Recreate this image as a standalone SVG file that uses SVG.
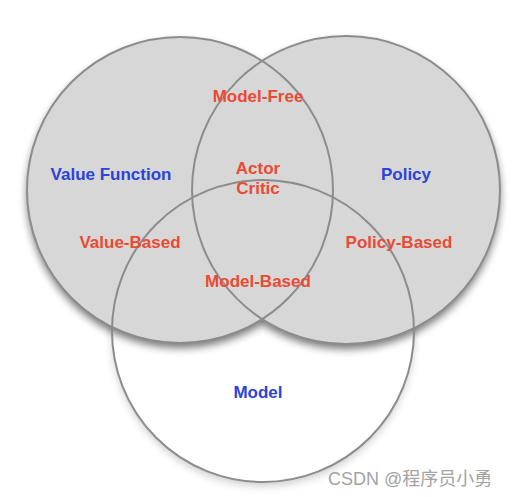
<svg xmlns="http://www.w3.org/2000/svg" width="513" height="497" viewBox="0 0 513 497">
<defs>
<filter id="sh" x="-20%" y="-20%" width="140%" height="140%">
<feGaussianBlur in="SourceAlpha" stdDeviation="4"/>
<feOffset dx="0" dy="5" result="b"/>
<feComponentTransfer><feFuncA type="linear" slope="0.55"/></feComponentTransfer>
<feMerge><feMergeNode/><feMergeNode in="SourceGraphic"/></feMerge>
</filter>
<filter id="sh2" x="-20%" y="-20%" width="140%" height="140%">
<feGaussianBlur in="SourceAlpha" stdDeviation="4"/>
<feOffset dx="0" dy="4" result="b"/>
<feComponentTransfer><feFuncA type="linear" slope="0.2"/></feComponentTransfer>
<feMerge><feMergeNode/><feMergeNode in="SourceGraphic"/></feMerge>
</filter>
</defs>
<style>
.o{fill:none;stroke:#8c8c8c;stroke-width:2}
.t{font-family:"Liberation Sans",Arial,sans-serif;font-weight:bold;font-size:17px;text-anchor:middle}
.b{fill:#2b44d6}
.r{fill:#ea4a33}
.w{font-family:"Liberation Sans","Noto Sans CJK SC",sans-serif;font-size:18px;fill:#a3a3a3}
</style>
<rect width="513" height="497" fill="#ffffff"/>
<g id="fills">
<circle cx="263" cy="331" r="151" fill="#ffffff" filter="url(#sh2)"/>
<g filter="url(#sh)">
<circle cx="180" cy="190" r="153" fill="#d7d7d7"/>
<circle cx="346" cy="190" r="154" fill="#d7d7d7"/>
</g>
</g>
<g id="connectors"></g>
<g id="value-function-circle">
<circle class="o" cx="180" cy="190" r="153"/>
<text class="t b" x="111" y="180">Value Function</text>
</g>
<g id="policy-circle">
<circle class="o" cx="346" cy="190" r="154"/>
<text class="t b" x="406" y="180">Policy</text>
</g>
<g id="model-circle">
<circle class="o" cx="263" cy="331" r="151"/>
<text class="t b" x="258" y="398">Model</text>
</g>
<g id="labels">
<text class="t r" x="258" y="102">Model-Free</text>
<text class="t r" x="258" y="174">Actor</text>
<text class="t r" x="258" y="194">Critic</text>
<text class="t r" x="130" y="248">Value-Based</text>
<text class="t r" x="399" y="248">Policy-Based</text>
<text class="t r" x="258" y="287">Model-Based</text>
</g>
<text class="w" x="328" y="485">CSDN @程序员小勇</text>
</svg>
